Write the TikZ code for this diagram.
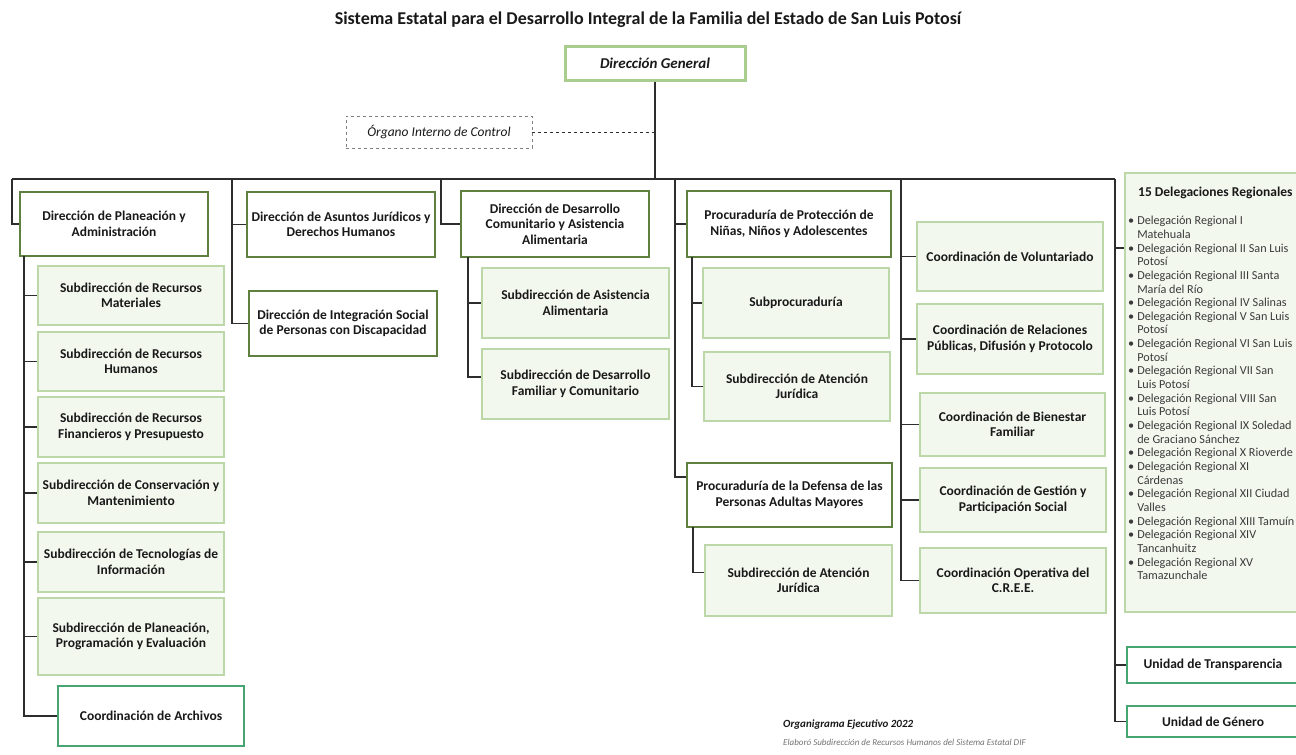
\documentclass[tikz,border=0pt]{standalone}
\usepackage{fontspec}
\setmainfont{Carlito}
\definecolor{dkgreen}{RGB}{96,128,64}
\definecolor{ltgreen}{RGB}{188,216,168}
\definecolor{ltfill}{RGB}{243,248,239}
\definecolor{tealg}{RGB}{70,165,112}
\definecolor{dggreen}{RGB}{168,205,142}
\definecolor{linec}{RGB}{45,45,45}
\definecolor{txt}{RGB}{25,25,25}
\tikzset{
  boxbase/.style={align=center, inner sep=1pt, text=txt, font=\fontsize{13.5}{15.5}\selectfont\bfseries},
  dirbox/.style={boxbase, draw=dkgreen, line width=2.8pt, fill=white},
  subbox/.style={boxbase, draw=ltgreen, line width=2pt, fill=ltfill},
  unitbox/.style={boxbase, draw=tealg, line width=1.8pt, fill=white},
  genbox/.style={boxbase, draw=dggreen, line width=3pt, fill=white, font=\fontsize{15}{17}\selectfont\bfseries\itshape},
  oicbox/.style={boxbase, draw=gray, dashed, line width=0.8pt, fill=white, font=\fontsize{13.5}{15}\selectfont\itshape},
  conn/.style={draw=linec, line width=1.1pt},
}
\newcommand\bx[7]{\node[#2, minimum width={(#5-#3)*1pt}, minimum height={(#6-#4)*1pt}] (#1) at ({(#3+#5)/2},{(#4+#6)/2}) {#7};}
\begin{document}
\begin{tikzpicture}[x=1pt,y=-1pt]
\useasboundingbox[fill=white] (0,0) rectangle (1296,755);
% title
\node[font=\fontsize{18}{20}\selectfont\bfseries, text=txt] (title) at (648,20) {Sistema Estatal para el Desarrollo Integral de la Familia del Estado de San Luis Potosí};
% bus coordinates
\coordinate (busL) at (12,179);
\coordinate (busR) at (1115,179);
\coordinate (b2) at (232,179);
\coordinate (b3) at (441,179);
\coordinate (b4) at (675,179);
\coordinate (b5) at (901,179);
\coordinate (c1) at (24,256);
\coordinate (c3) at (468,257);
\coordinate (c4) at (692,257);
\coordinate (c4b) at (693,527);
% main bus
\draw[conn] (busL) -- (busR);
% boxes
\bx{dg}{genbox}{565}{46}{745}{80}{Dirección General}
\bx{oic}{oicbox}{346}{116}{532}{148}{Órgano Interno de Control}
\bx{dpa}{dirbox}{20}{192}{208}{256}{Dirección de Planeación y\\Administración}
\bx{rm}{subbox}{38}{266}{224}{325}{Subdirección de Recursos\\Materiales}
\bx{rh}{subbox}{38}{332}{224}{391}{Subdirección de Recursos\\Humanos}
\bx{rf}{subbox}{38}{397}{224}{457}{Subdirección de Recursos\\Financieros y Presupuesto}
\bx{cm}{subbox}{38}{463}{224}{523}{Subdirección de Conservación y\\Mantenimiento}
\bx{ti}{subbox}{38}{532}{224}{592}{Subdirección de Tecnologías de\\Información}
\bx{ppe}{subbox}{38}{598}{224}{675}{Subdirección de Planeación,\\Programación y Evaluación}
\bx{arch}{unitbox}{58}{686}{244}{746}{Coordinación de Archivos}
\bx{daj}{dirbox}{247}{192}{435}{257}{Dirección de Asuntos Jurídicos y\\Derechos Humanos}
\bx{dis}{dirbox}{249}{291}{437}{356}{Dirección de Integración Social\\de Personas con Discapacidad}
\bx{ddc}{dirbox}{461}{191}{649}{257}{Dirección de Desarrollo\\Comunitario y Asistencia\\Alimentaria}
\bx{saa}{subbox}{482}{268}{669}{338}{Subdirección de Asistencia\\Alimentaria}
\bx{sdf}{subbox}{482}{349}{669}{419}{Subdirección de Desarrollo\\Familiar y Comunitario}
\bx{pnna}{dirbox}{687}{191}{891}{257}{Procuraduría de Protección de\\Niñas, Niños y Adolescentes}
\bx{subp}{subbox}{703}{268}{889}{338}{Subprocuraduría}
\bx{saja}{subbox}{704}{352}{890}{421}{Subdirección de Atención\\Jurídica}
\bx{pam}{dirbox}{687}{463}{892}{527}{Procuraduría de la Defensa de las\\Personas Adultas Mayores}
\bx{sajb}{subbox}{705}{545}{892}{616}{Subdirección de Atención\\Jurídica}
\bx{cv}{subbox}{917}{222}{1103}{291}{Coordinación de Voluntariado}
\bx{crp}{subbox}{917}{304}{1103}{374}{Coordinación de Relaciones\\Públicas, Difusión y Protocolo}
\bx{cbf}{subbox}{920}{393}{1105}{456}{Coordinación de Bienestar\\Familiar}
\bx{cgp}{subbox}{920}{468}{1106}{532}{Coordinación de Gestión y\\Participación Social}
\bx{coc}{subbox}{920}{548}{1106}{613}{Coordinación Operativa del\\C.R.E.E.}
\bx{dr}{subbox}{1125}{173}{1299}{612}{}
\bx{ut}{unitbox}{1127}{647}{1299}{683}{Unidad de Transparencia}
\bx{ug}{unitbox}{1127}{706}{1299}{737}{Unidad de Género}
% delegaciones text
\node[anchor=west, inner sep=0, text=txt, font=\fontsize{13.5}{15}\selectfont\bfseries] (drh) at (1138,193) {15 Delegaciones Regionales};
\node[anchor=north west, inner sep=0, align=left, text=txt!85, font=\fontsize{12.2}{13.65}\selectfont] (drl) at (1128,215) {%
\begin{tabular}{@{}l@{\hspace{3pt}}l@{}}
• & Delegación Regional I\\
 & Matehuala\\
• & Delegación Regional II San Luis\\
 & Potosí\\
• & Delegación Regional III Santa\\
 & María del Río\\
• & Delegación Regional IV Salinas\\
• & Delegación Regional V San Luis\\
 & Potosí\\
• & Delegación Regional VI San Luis\\
 & Potosí\\
• & Delegación Regional VII San\\
 & Luis Potosí\\
• & Delegación Regional VIII San\\
 & Luis Potosí\\
• & Delegación Regional IX Soledad\\
 & de Graciano Sánchez\\
• & Delegación Regional X Rioverde\\
• & Delegación Regional XI\\
 & Cárdenas\\
• & Delegación Regional XII Ciudad\\
 & Valles\\
• & Delegación Regional XIII Tamuín\\
• & Delegación Regional XIV\\
 & Tancanhuitz\\
• & Delegación Regional XV\\
 & Tamazunchale
\end{tabular}};
% footer
\node[anchor=west, inner sep=0, text=txt, font=\fontsize{11}{13}\selectfont\bfseries\itshape] (org) at (783,725) {Organigrama Ejecutivo 2022};
\node[anchor=west, inner sep=0, text=gray!90!black, font=\fontsize{9}{11}\selectfont\itshape] (elab) at (783,742) {Elaboró Subdirección de Recursos Humanos del Sistema Estatal DIF};
% connectors to boxes
\draw[conn] (dg.south) -- (dg.south |- busL);
\draw[conn, dashed, line width=0.9pt] (oic.east) -- (oic.east -| dg.south);
\draw[conn] (busL) |- (dpa.west);
\draw[conn] (c1) |- (arch.west);
\foreach \n in {rm,rh,rf,cm,ti,ppe} \draw[conn] (c1 |- \n.west) -- (\n.west);
\draw[conn] (b2) |- (daj.west);
\draw[conn] (b2) |- (dis.west);
\draw[conn] (b3) |- (ddc.west);
\draw[conn] (c3) |- ([yshift=7pt]sdf.west);
\draw[conn] (c3 |- saa.west) -- (saa.west);
\draw[conn] (b4) |- ([yshift=18pt]pam.west);
\draw[conn] (b4 |- pnna.west) -- (pnna.west);
\draw[conn] (c4) |- (saja.west);
\draw[conn] (c4 |- subp.west) -- (subp.west);
\draw[conn] (c4b) |- ([yshift=8pt]sajb.west);
\draw[conn] (b5) |- (coc.west);
\foreach \n in {cv,crp,cbf,cgp} \draw[conn] (b5 |- \n.west) -- (\n.west);
\draw[conn] (busR) |- (ug.west);
\draw[conn] (busR |- ut.west) -- (ut.west);
\draw[conn] (busR |- 0,248) -- (dr.west |- 0,248);
\end{tikzpicture}
\end{document}
